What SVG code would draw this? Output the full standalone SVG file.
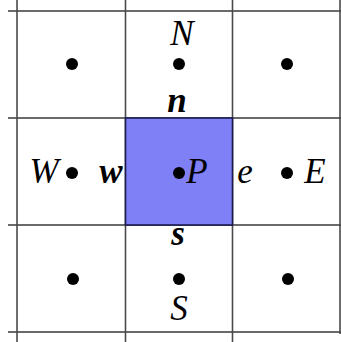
<svg xmlns="http://www.w3.org/2000/svg" width="341" height="342" viewBox="0 0 341 342">
<style>
.g{stroke:#4a4a4a;stroke-width:1.6;fill:none}
.h{stroke:#6a6a6a;stroke-width:2;fill:none}
.d{fill:#000}
.t{font-family:"Liberation Serif","Times New Roman",serif;font-style:italic;font-size:35px;fill:#000}
.b{font-weight:bold}
</style>
<rect width="341" height="342" fill="#fff"/>
<g id="grid">
<line class="h" x1="8" y1="11" x2="341" y2="11"/>
<line class="h" x1="8" y1="118" x2="341" y2="118"/>
<line class="h" x1="8" y1="225" x2="341" y2="225"/>
<line class="h" x1="8" y1="332" x2="341" y2="332"/>
<line class="g" x1="17" y1="0" x2="17" y2="342"/>
<line class="g" x1="125.5" y1="0" x2="125.5" y2="342"/>
<line class="g" x1="232.5" y1="0" x2="232.5" y2="342"/>
<line class="g" x1="340" y1="0" x2="340" y2="334"/>
</g>
<g id="P-cell">
<rect x="125.5" y="118" width="107" height="107" fill="#8080f6" stroke="#1a1a50" stroke-width="1.6"/>
</g>
<g id="nodes">
<circle class="d" cx="72" cy="64" r="6"/>
<circle class="d" cx="179" cy="64" r="6"/>
<circle class="d" cx="287" cy="64" r="6"/>
<circle class="d" cx="72" cy="173" r="6"/>
<circle class="d" cx="179" cy="173" r="6"/>
<circle class="d" cx="287" cy="173" r="6"/>
<circle class="d" cx="73" cy="279" r="6"/>
<circle class="d" cx="179" cy="279" r="6"/>
<circle class="d" cx="288" cy="279" r="6"/>
</g>
<g id="labels">
<text class="t" x="182" y="45" text-anchor="middle">N</text>
<text class="t b" x="177" y="112" text-anchor="middle">n</text>
<text class="t" x="44" y="183" text-anchor="middle">W</text>
<text class="t b" x="111" y="183" text-anchor="middle">w</text>
<text class="t" x="197" y="183" text-anchor="middle">P</text>
<text class="t" x="245" y="183" text-anchor="middle">e</text>
<text class="t" x="315" y="183" text-anchor="middle">E</text>
<text class="t b" x="178" y="245" text-anchor="middle">s</text>
<text class="t" x="179" y="320" text-anchor="middle">S</text>
</g>
</svg>
